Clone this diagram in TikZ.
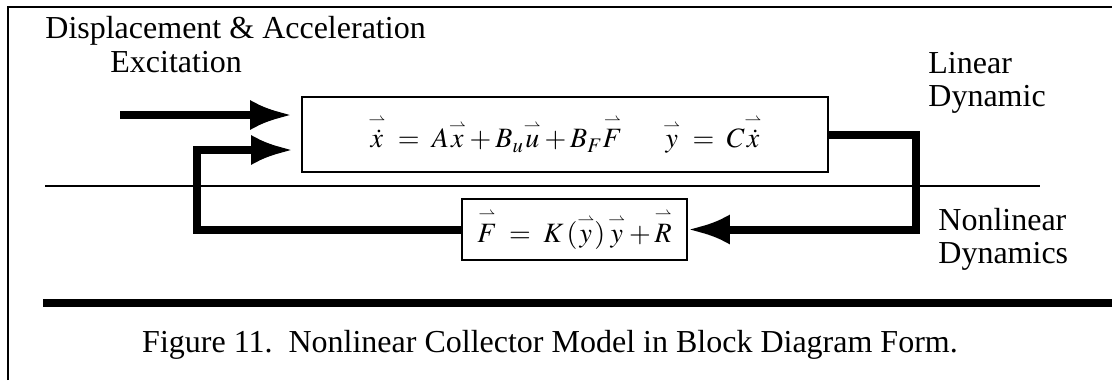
\documentclass[tikz,border=0pt]{standalone}
\usepackage{amsmath}
\usepackage{mathptmx}
\usepackage{fontspec}
\setmainfont{Liberation Serif}
\usetikzlibrary{arrows.meta,positioning}
\newcommand{\hv}[1]{\overset{\scriptscriptstyle\rightharpoonup}{#1}}
\newcommand{\hvd}[1]{\overset{\scriptscriptstyle\rightharpoonup}{\dot{#1}}}

\begin{document}
\begin{tikzpicture}[x=0.5pt,y=-0.5pt,
  flow/.style={line width=4pt,-{Latex[length=21pt,width=15pt]}},
  blockbox/.style={draw,line width=0.8pt,inner sep=0pt,font=\fontsize{14pt}{16pt}\selectfont},
  labeltext/.style={font=\fontsize{16pt}{16.5pt}\selectfont,align=left,inner sep=0pt},
  rule/.style={line width=0.8pt}]
\useasboundingbox (0,0) rectangle (1112,380);

% frame
\draw[rule] (8,380) -- (8,7) -- (1112,7);
\draw[rule] (45,186) -- (1040,186);
\draw[line width=4pt] (43,303) -- (1112,303);

% blocks
\node[blockbox,minimum width=263pt,minimum height=37.5pt] (lin) at (565,134.5)
  {\makebox[196.5pt][l]{$\hvd{x} \;=\; A\hv{x}+B_u\hv{u}+B_F\hv{F}$\hfill$\hv{y} \;=\; C\hvd{x}$}};
\node[blockbox,minimum width=112.5pt,minimum height=30.5pt] (nl) at (574.5,229.5)
  {$\hv{F} \;=\; K\,(\hv{y})\,\hv{y}+\hv{R}$};

\coordinate (exc) at (120,115);
\coordinate (fbL) at (197,0);
\coordinate (outR) at (916,0);

% connectors
\draw[flow,shorten >=4.5pt] (exc) -- (lin.west |- exc);
\draw[flow,shorten >=4pt] (nl.west) -- (nl.west -| fbL) -- (fbL |- 0,150) -- (lin.west |- 0,150);
\draw[flow] (lin.east) -- (lin.east -| outR) -- (nl.east -| outR) -- (nl.east);

% labels
\node[labeltext,anchor=base west] (dispacc) at (45,38) {Displacement \& Acceleration};
\node[labeltext,anchor=base west] (excit) at (110,72) {Excitation};
\node[labeltext,anchor=north west] (lindyn) at (928,52) {Linear\\Dynamic};
\node[labeltext,anchor=north west] (nldyn) at (938,208) {Nonlinear\\Dynamics};
\node[font=\fontsize{16pt}{19pt}\selectfont,anchor=base] (caption) at (550,352)
  {Figure 11.\ \ Nonlinear Collector Model in Block Diagram Form.};
\end{tikzpicture}
\end{document}
